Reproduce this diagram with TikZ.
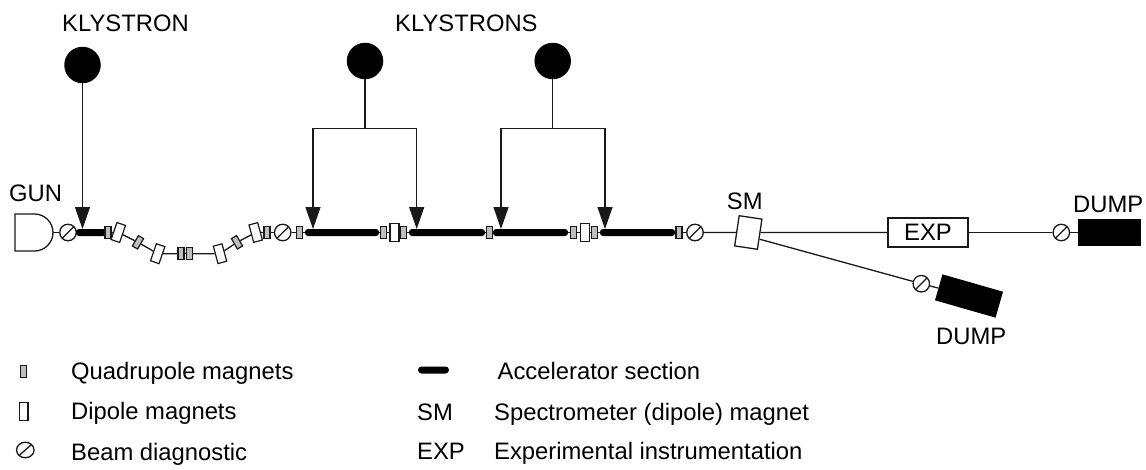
\documentclass[tikz,border=0pt]{standalone}
\usepackage{fontspec}
\setmainfont{Liberation Sans}
\usetikzlibrary{arrows.meta,shapes.geometric}
\definecolor{quadgray}{RGB}{190,190,190}
\definecolor{linedark}{RGB}{25,25,25}
\tikzset{
  thinline/.style={draw=linedark,line width=1.3pt},
  feedarrow/.style={thinline,-{Triangle[length=22pt,width=15pt]}},
  label/.style={anchor=base west,inner sep=0pt,font=\fontsize{23.8}{28}\selectfont,text=black},
  quad/.style={draw=linedark,line width=1.2pt,fill=quadgray,rectangle,inner sep=0pt,minimum width=6pt,minimum height=12pt},
  dipole/.style={draw=linedark,line width=1.2pt,fill=white,rectangle,inner sep=0pt,minimum width=9pt,minimum height=18pt},
  diag/.style={draw=linedark,line width=1.3pt,fill=white,circle,inner sep=0pt,minimum size=16.5pt,
    path picture={\draw[linedark,line width=1.3pt] (path picture bounding box.south west) -- (path picture bounding box.north east);}},
  section/.style={fill=black,rectangle,rounded corners=3pt,inner sep=0pt,minimum height=7pt},
  klystron/.style={fill=black,circle,inner sep=0pt,minimum size=36.5pt},
  dumpbox/.style={fill=black,rectangle,inner sep=0pt},
}
\begin{document}
\begin{tikzpicture}[x=1pt,y=-1pt]
\useasboundingbox (0,0) rectangle (1146,469);
% klystrons
\node[klystron] (k1) at (82.5,65) {};
\node[klystron] (k2) at (365,61) {};
\node[klystron] (k3) at (552.7,61) {};
% gun
\draw[thinline] (15,214) -- (34.5,214) .. controls (44.7,214) and (53,222.3) .. (53,232.5) .. controls (53,242.7) and (44.7,251) .. (34.5,251) -- (15,251) -- cycle;
\coordinate (gunout) at (53,232.5);
% beam line elements
\node[diag] (d1) at (68,232.5) {};
\node[section,minimum width=30pt] (s1) at (91,232.5) {};
\node[quad] (q1) at (108,232.5) {};
\node[dipole,rotate=-19] (dp1) at (118.3,232.5) {};
\node[quad,rotate=-30] (q2) at (138,242.3) {};
\node[dipole,rotate=-19] (dp2) at (157.7,253.7) {};
\node[quad] (q3) at (181,253.7) {};
\node[quad] (q4) at (189.5,253.7) {};
\node[dipole,rotate=15] (dp3) at (220,253.7) {};
\node[quad,rotate=30] (q5) at (237,242.3) {};
\node[dipole,rotate=15] (dp4) at (255.7,232.5) {};
\node[quad] (q6) at (267,232.5) {};
\node[diag] (d2) at (282.7,232.5) {};
\node[quad] (q7) at (299.3,232.5) {};
\node[section,minimum width=74pt] (s2) at (342,232.5) {};
\node[quad] (q8) at (383.7,232.5) {};
\node[dipole] (dp5) at (394.5,232.5) {};
\node[quad] (q9) at (403.5,232.5) {};
\node[section,minimum width=76pt] (s3) at (447,232.5) {};
\node[quad] (q10) at (489.3,232.5) {};
\node[section,minimum width=75pt] (s4) at (530.5,232.5) {};
\node[quad] (q11) at (573.3,232.5) {};
\node[dipole] (dp6) at (584.7,232.5) {};
\node[quad] (q12) at (594.3,232.5) {};
\node[section,minimum width=75pt] (s5) at (637.5,232.5) {};
\node[quad] (q13) at (679,232.5) {};
\node[diag] (d3) at (695,232.5) {};
\node[draw=linedark,line width=1.3pt,fill=white,rectangle,inner sep=0pt,minimum width=23pt,minimum height=30.5pt,rotate=-8.5] (sm) at (748.3,232.5) {};
\node[thinline,fill=white,rectangle,inner sep=0pt,minimum width=80pt,minimum height=29pt,font=\fontsize{23.8}{28}\selectfont] (exp) at (928,232.5) {EXP};
\node[diag] (d4) at (1061.3,232.5) {};
\node[dumpbox,minimum width=63pt,minimum height=26.6pt] (dump1) at (1109.2,232.5) {};
\node[diag] (d5) at (921.3,283.7) {};
\node[dumpbox,minimum width=63pt,minimum height=27pt,rotate=-16] (dump2) at (969,296) {};
\coordinate (smb) at (760,239.3);
% beam connectors
\draw[thinline] (gunout) -- (d1);
\draw[thinline] (d1) -- (s1);
\draw[thinline] (q1) -- (dp1);
\draw[thinline] (dp1) -- (q2);
\draw[thinline] (q2) -- (dp2);
\draw[thinline] (dp2) -- (q3);
\draw[thinline] (q3) -- (q4);
\draw[thinline] (q4) -- (dp3);
\draw[thinline] (dp3) -- (q5);
\draw[thinline] (q5) -- (dp4);
\draw[thinline] (dp4) -- (q6);
\draw[thinline] (q6) -- (d2);
\draw[thinline] (d2) -- (q7);
\draw[thinline] (q7) -- (s2);
\draw[thinline] (s2) -- (q8);
\draw[thinline] (q8) -- (dp5);
\draw[thinline] (dp5) -- (q9);
\draw[thinline] (q9) -- (s3);
\draw[thinline] (s3) -- (q10);
\draw[thinline] (q10) -- (s4);
\draw[thinline] (s4) -- (q11);
\draw[thinline] (q11) -- (dp6);
\draw[thinline] (dp6) -- (q12);
\draw[thinline] (q12) -- (s5);
\draw[thinline] (s5) -- (q13);
\draw[thinline] (q13) -- (d3);
\draw[thinline] (d3) -- (sm);
\draw[thinline] (sm) -- (exp);
\draw[thinline] (exp) -- (d4);
\draw[thinline] (d4) -- (dump1);
\draw[thinline] (smb) -- (d5);
\draw[thinline] (d5) -- (dump2);
% klystron feeds
\coordinate (t1) at (82.5,229);
\coordinate (t2) at (313,229);
\coordinate (t3) at (416.7,229);
\coordinate (t4) at (501,229);
\coordinate (t5) at (605,229);
\coordinate (bl2) at (313,128.3);
\coordinate (br2) at (416.7,128.3);
\coordinate (bm2) at (365,128.3);
\coordinate (bl3) at (501,128.3);
\coordinate (br3) at (605,128.3);
\coordinate (bm3) at (552.7,128.3);
\draw[feedarrow] (k1) -- (t1);
\draw[thinline] (k2) -- (bm2);
\draw[thinline] (k3) -- (bm3);
\draw[feedarrow] (bm2) -- (bl2) -- (t2);
\draw[feedarrow] (bm2) -- (br2) -- (t3);
\draw[feedarrow] (bm3) -- (bl3) -- (t4);
\draw[feedarrow] (bm3) -- (br3) -- (t5);
% labels
\node[label] (lk1) at (62,31.7) {KLYSTRON};
\node[label] (lk2) at (395,31.7) {KLYSTRONS};
\node[label] (lgun) at (9,201) {GUN};
\node[label] (lsm) at (726.7,209) {SM};
\node[label] (ld1) at (1073,212) {DUMP};
\node[label] (ld2) at (936,344) {DUMP};
% legend
\node[quad,minimum width=5.5pt,minimum height=12pt] (lq) at (23.5,371.5) {};
\node[dipole,minimum width=8.5pt] (ldp) at (23.7,411.7) {};
\node[diag,ellipse,minimum width=17.5pt,minimum height=15.5pt] (ldg) at (25.3,450) {};
\node[section,minimum width=31pt,rounded corners=3.5pt] (ls) at (433.5,370) {};
\node[label] (t1a) at (71,379) {Quadrupole magnets};
\node[label] (t2a) at (71,419.5) {Dipole magnets};
\node[label] (t3a) at (71,460) {Beam diagnostic};
\node[label] (t4a) at (497.5,379) {Accelerator section};
\node[label] (t5a) at (417,420) {SM};
\node[label] (t5b) at (494,420) {Spectrometer (dipole) magnet};
\node[label] (t6a) at (417,459.5) {EXP};
\node[label] (t6b) at (494,459.5) {Experimental instrumentation};
\end{tikzpicture}
\end{document}
